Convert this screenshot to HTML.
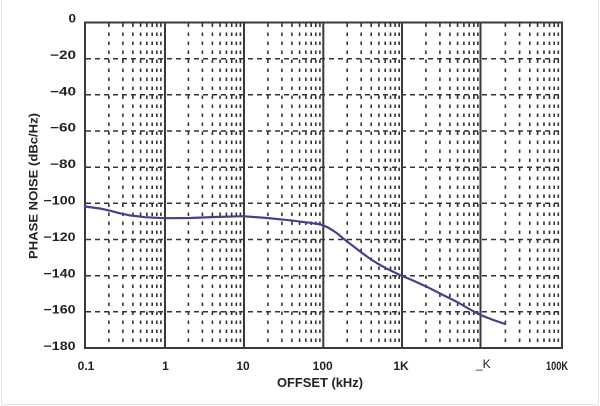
<!DOCTYPE html>
<html><head><meta charset="utf-8"><style>
html,body{margin:0;padding:0;background:#fff;}
svg{display:block;}
text{font-family:"Liberation Sans",Arial,sans-serif;font-weight:bold;fill:#222;}
</style></head><body>
<svg width="600" height="406" viewBox="0 0 600 406" xmlns="http://www.w3.org/2000/svg">
<rect x="0" y="0" width="600" height="406" fill="#fff"/>
<!-- outer faint border -->
<path d="M1.5 0 V404.5 H598.5 V0" fill="none" stroke="#e2e2e2" stroke-width="1"/>

<!-- minor vertical dotted grid -->
<g stroke="#333" stroke-width="1.6" stroke-dasharray="3.5 5.5" stroke-dashoffset="-0.5">
<path d="M108.9 23V347M122.9 23V347M132.9 23V347M140.6 23V347M146.9 23V347M152.2 23V347M156.8 23V347M160.9 23V347"/>
<path d="M188.4 23V347M202.4 23V347M212.4 23V347M220.1 23V347M226.4 23V347M231.7 23V347M236.3 23V347M240.4 23V347"/>
<path d="M267.9 23V347M281.9 23V347M291.9 23V347M299.6 23V347M305.9 23V347M311.2 23V347M315.8 23V347M319.9 23V347"/>
<path d="M347.2 23V347M361.2 23V347M371.2 23V347M378.9 23V347M385.2 23V347M390.5 23V347M395.1 23V347M399.2 23V347"/>
<path d="M425.9 23V347M439.9 23V347M449.9 23V347M457.6 23V347M463.9 23V347M469.2 23V347M473.8 23V347M477.9 23V347"/>
<path d="M505.4 23V347M519.6 23V347M529.8 23V347M537.6 23V347M544.0 23V347M549.5 23V347M554.2 23V347M558.3 23V347"/>
</g>

<!-- horizontal dashed grid -->
<g stroke="#333" stroke-width="1.5" stroke-dasharray="5 4">
<path d="M86 58.7H561M86 94.8H561M86 131H561M86 167.2H561M86 203.3H561M86 239.5H561M86 275.7H561M86 311.8H561"/>
</g>

<!-- major decade lines -->
<g stroke="#3a3a3a" stroke-width="2">
<path d="M165 22.5V348M244 22.5V348M323.3 22.5V348M402 22.5V348M480.5 22.5V348"/>
</g>
<!-- frame -->
<rect x="85" y="22.5" width="477" height="325.5" fill="none" stroke="#3a3a3a" stroke-width="2"/>

<!-- curve -->
<path d="M85 206.5 L100 208.5 L110 210.7 L120 213.3 L130 215.4 L145 217.2 L165 218.2 L190 218 L215 217 L243 216.2 L267 218 L290 220.3 L310 222.8 L318 224 L323 225.2 L328 227.5 L333 230.5 L338 234 L343 238.3 L351 244.5 L360 251.4 L368 257.3 L376.7 263 L388 269.3 L400 275 L413 280.5 L426.7 286.7 L441 294 L456.7 301.7 L468 308.3 L480 314.8 L492 319.5 L505 324"
 fill="none" stroke="#4a3f8e" stroke-width="2.2" stroke-linejoin="round" stroke-linecap="round"/>

<!-- y tick labels -->
<g font-size="12" text-anchor="end">
<text x="76" y="22.5" textLength="7.5" lengthAdjust="spacingAndGlyphs">0</text>
<text x="76" y="58.9" textLength="26" lengthAdjust="spacingAndGlyphs">−20</text>
<text x="76" y="95.3" textLength="26" lengthAdjust="spacingAndGlyphs">−40</text>
<text x="76" y="131.7" textLength="26" lengthAdjust="spacingAndGlyphs">−60</text>
<text x="76" y="168.1" textLength="26" lengthAdjust="spacingAndGlyphs">−80</text>
<text x="75.5" y="204.5" textLength="32" lengthAdjust="spacingAndGlyphs">−100</text>
<text x="75.5" y="240.9" textLength="32" lengthAdjust="spacingAndGlyphs">−120</text>
<text x="75.5" y="277.3" textLength="32" lengthAdjust="spacingAndGlyphs">−140</text>
<text x="75.5" y="313.7" textLength="32" lengthAdjust="spacingAndGlyphs">−160</text>
<text x="75.5" y="350.1" textLength="32" lengthAdjust="spacingAndGlyphs">−180</text>
</g>

<!-- x tick labels -->
<g font-size="12" text-anchor="middle">
<text x="86" y="370">0.1</text>
<text x="165.5" y="370">1</text>
<text x="243" y="370">10</text>
<text x="322.7" y="370">100</text>
<text x="401" y="370">1K</text>
<text x="557" y="370" textLength="22" lengthAdjust="spacingAndGlyphs">100K</text>
</g>
<text x="476" y="368" font-size="12" style="font-weight:normal" fill="#444">_K</text>

<!-- axis titles -->
<text x="320" y="387" font-size="12.5" text-anchor="middle" textLength="86" lengthAdjust="spacingAndGlyphs">OFFSET (kHz)</text>
<text transform="translate(37.5,186) rotate(-90)" x="0" y="0" font-size="12" text-anchor="middle" textLength="146" lengthAdjust="spacingAndGlyphs">PHASE NOISE (dBc/Hz)</text>
</svg>
</body></html>
